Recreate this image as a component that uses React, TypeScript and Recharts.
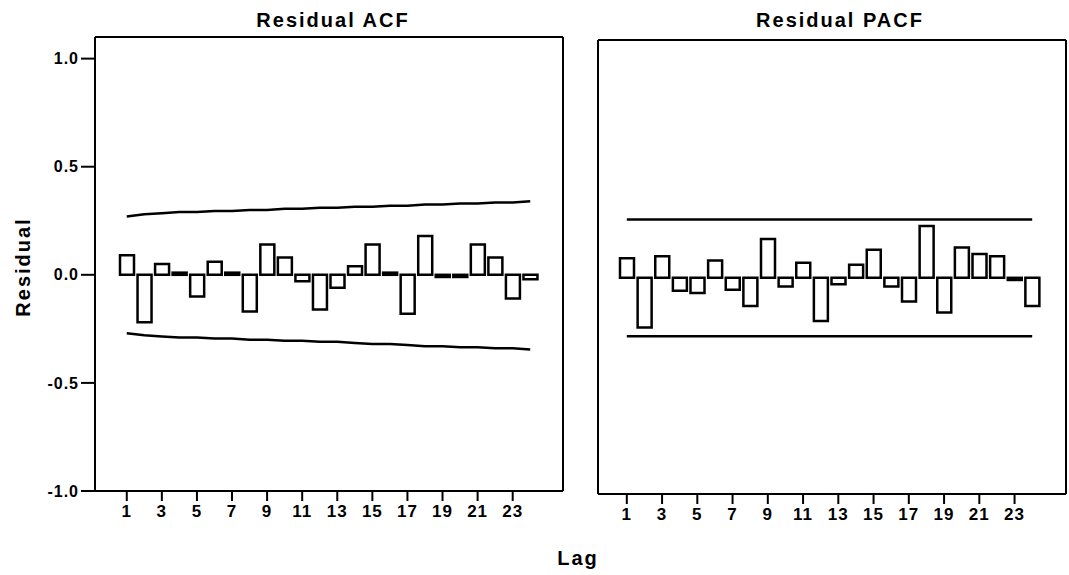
import React from 'react'
import { ComposedChart, Bar, Line, XAxis, YAxis } from 'recharts'

// ── Data ──────────────────────────────────────────────────────────────────────

const lags = [1, 2, 3, 4, 5, 6, 7, 8, 9, 10, 11, 12, 13, 14, 15, 16, 17, 18, 19, 20, 21, 22, 23, 24]

const acfValues = [
  0.09, -0.22, 0.05, 0.01, -0.1, 0.06, 0.01, -0.17, 0.14, 0.08, -0.03, -0.16,
  -0.06, 0.04, 0.14, 0.01, -0.18, 0.18, -0.01, -0.01, 0.14, 0.08, -0.11, -0.02,
]
const acfUpper = [
  0.27, 0.28, 0.285, 0.29, 0.29, 0.295, 0.295, 0.3, 0.3, 0.305, 0.305, 0.31,
  0.31, 0.315, 0.315, 0.32, 0.32, 0.325, 0.325, 0.33, 0.33, 0.335, 0.335, 0.34,
]
const acfLower = [
  -0.27, -0.28, -0.285, -0.29, -0.29, -0.295, -0.295, -0.3, -0.3, -0.305, -0.305, -0.31,
  -0.31, -0.315, -0.32, -0.32, -0.325, -0.33, -0.33, -0.335, -0.335, -0.34, -0.34, -0.345,
]

const pacfValues = [
  0.09, -0.23, 0.1, -0.06, -0.07, 0.08, -0.055, -0.13, 0.18, -0.04, 0.07, -0.2,
  -0.03, 0.06, 0.13, -0.04, -0.11, 0.24, -0.16, 0.14, 0.11, 0.1, -0.01, -0.13,
]
const pacfUpper = [
  0.27, 0.27, 0.27, 0.27, 0.27, 0.27, 0.27, 0.27, 0.27, 0.27, 0.27, 0.27,
  0.27, 0.27, 0.27, 0.27, 0.27, 0.27, 0.27, 0.27, 0.27, 0.27, 0.27, 0.27,
]
const pacfLower = [
  -0.27, -0.27, -0.27, -0.27, -0.27, -0.27, -0.27, -0.27, -0.27, -0.27, -0.27, -0.27,
  -0.27, -0.27, -0.27, -0.27, -0.27, -0.27, -0.27, -0.27, -0.27, -0.27, -0.27, -0.27,
]

const yTicks = [-1, -0.5, 0, 0.5, 1]

const acfData = lags.map((lag, i) => ({ lag, value: acfValues[i], upper: acfUpper[i], lower: acfLower[i] }))
const pacfData = lags.map((lag, i) => ({ lag, value: pacfValues[i], upper: pacfUpper[i], lower: pacfLower[i] }))

// ── Styles ────────────────────────────────────────────────────────────────────

const FONT = 'Arial, "Liberation Sans", Helvetica, sans-serif'
const xTickStyle = { fill: '#000', fontSize: 17, fontWeight: 700, fontFamily: FONT, letterSpacing: 1 }
const yTickStyle = { fill: '#000', fontSize: 16, fontWeight: 700, fontFamily: FONT, letterSpacing: 1 }
const axisLine = { stroke: '#000', strokeWidth: 2 }
const textStyle: React.CSSProperties = {
  position: 'absolute', fontFamily: FONT, fontWeight: 700, fontSize: 20,
  letterSpacing: 2, lineHeight: '20px', color: '#000', whiteSpace: 'nowrap',
}

function Panel({ data, showY, margin, padding }: {
  data: typeof acfData
  showY: boolean
  margin: { top: number; right: number; bottom: number; left: number }
  padding: { left: number; right: number }
}) {
  const width = showY ? 580 : 489
  return (
    <ComposedChart width={width} height={575} data={data} margin={margin}>
      <XAxis
        dataKey="lag"
        interval={1}
        padding={padding}
        height={30}
        tickSize={10}
        tickMargin={4}
        tick={xTickStyle}
        axisLine={axisLine}
        tickLine={axisLine}
      />
      <XAxis xAxisId="top" dataKey="lag" orientation="top" height={1} tick={false} tickLine={false} axisLine={axisLine} />
      <YAxis
        domain={[-1, 1.1]}
        ticks={yTicks}
        width={showY ? 85 : 1}
        tick={showY ? yTickStyle : false}
        tickLine={showY ? axisLine : false}
        tickSize={14}
        tickMargin={2}
        tickFormatter={(v: number) => v.toFixed(1)}
        axisLine={axisLine}
      />
      <YAxis yAxisId="right" orientation="right" domain={[-1, 1.1]} width={1} tick={false} tickLine={false} axisLine={axisLine} />
      <Bar dataKey="value" fill="#fff" stroke="#000" strokeWidth={2.5} barSize={14} isAnimationActive={false} />
      <Line type="linear" dataKey="upper" stroke="#000" strokeWidth={2.5} dot={false} activeDot={false} isAnimationActive={false} />
      <Line type="linear" dataKey="lower" stroke="#000" strokeWidth={2.5} dot={false} activeDot={false} isAnimationActive={false} />
    </ComposedChart>
  )
}

export default function App() {
  return (
    <div style={{ position: 'absolute', left: 0, top: 0, width: 1069, height: 575, background: '#fff', overflow: 'hidden' }}>
      <div style={{ position: 'absolute', left: 0, top: 0 }}>
        <Panel data={acfData} showY margin={{ top: 36, right: 16, bottom: 54, left: 10 }} padding={{ left: 23, right: 24 }} />
      </div>
      <div style={{ position: 'absolute', left: 580, top: 0 }}>
        <Panel data={pacfData} showY={false} margin={{ top: 39, right: 2, bottom: 51, left: 17 }} padding={{ left: 20, right: 25 }} />
      </div>
      <div style={{ ...textStyle, left: 333, top: 10, transform: 'translateX(-50%)' }}>Residual ACF</div>
      <div style={{ ...textStyle, left: 840, top: 10, transform: 'translateX(-50%)' }}>Residual PACF</div>
      <div style={{ ...textStyle, left: 578, top: 548, transform: 'translateX(-50%)' }}>Lag</div>
      <div style={{ ...textStyle, left: 23, top: 267, transform: 'translate(-50%, -50%) rotate(-90deg)' }}>Residual</div>
    </div>
  )
}
